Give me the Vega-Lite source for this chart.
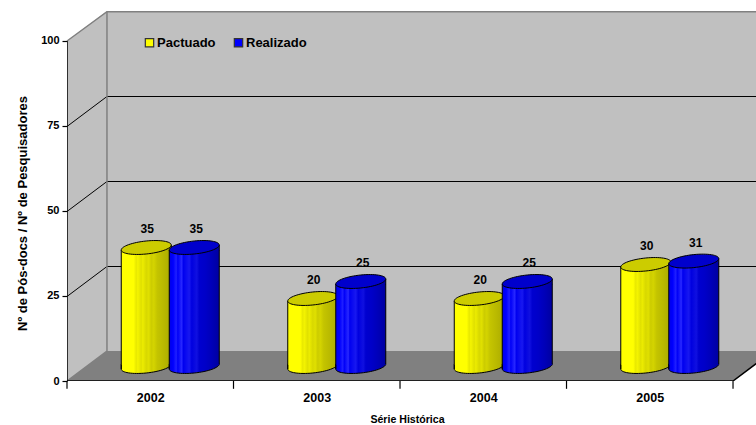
{"$schema":"https://vega.github.io/schema/vega-lite/v6.json","width":689,"height":370,"autosize":"none","padding":{"left":67,"top":11,"right":0,"bottom":44},"background":"white","config":{"view":{"stroke":null},"font":"Liberation Sans","text":{"font":"Liberation Sans"}},"datasets":{"bars":[{"year":2002,"series":"Pactuado","value":35},{"year":2003,"series":"Pactuado","value":20},{"year":2004,"series":"Pactuado","value":20},{"year":2005,"series":"Pactuado","value":30},{"year":2002,"series":"Realizado","value":35},{"year":2003,"series":"Realizado","value":25},{"year":2004,"series":"Realizado","value":25},{"year":2005,"series":"Realizado","value":31}]},"encoding":{"x":{"type":"quantitative","scale":{"domain":[2001.5,2005.638],"nice":false,"zero":false,"padding":0},"axis":{"values":[2002,2003,2004,2005],"format":"d","ticks":false,"domain":false,"grid":false,"title":"Série Histórica","labelFont":"Liberation Sans","labelFontWeight":"bold","labelFontSize":12.5,"labelColor":"#000","labelPadding":10,"labelOverlap":false,"titleFont":"Liberation Sans","titleFontWeight":"bold","titleFontSize":10.6,"titleColor":"#000","titlePadding":11,"titleX":340}},"y":{"type":"quantitative","scale":{"domain":[0,108.82],"nice":false,"padding":0},"axis":{"values":[0,25,50,75,100],"format":"d","grid":false,"domain":false,"tickColor":"#000","tickSize":5,"tickWidth":1.2,"title":"Nº de Pós-docs / Nº de Pesquisadores","labelFont":"Liberation Sans","labelFontWeight":"bold","labelFontSize":11,"labelColor":"#000","labelPadding":3,"titleFont":"Liberation Sans","titleFontWeight":"bold","titleFontSize":13,"titleColor":"#000","titlePadding":11,"titleY":202}}},"layer":[
{"data":{"values":[{"gx":2001.74,"lo":8.82,"hi":108.82},{"gx":2005.638,"lo":8.82,"hi":108.82}]},"mark":{"type":"area","fill":"#C0C0C0","opacity":1},"encoding":{"x":{"field":"gx"},"y":{"field":"lo"},"y2":{"field":"hi"}}},
{"data":{"values":[{"gx":2001.5,"lo":0,"hi":100},{"gx":2001.74,"lo":8.82,"hi":108.82}]},"mark":{"type":"area","fill":"#C0C0C0","opacity":1},"encoding":{"x":{"field":"gx"},"y":{"field":"lo"},"y2":{"field":"hi"}}},
{"data":{"values":[{"gy":0,"x1":2001.5,"x2":2005.5},{"gy":8.82,"x1":2001.74,"x2":2005.74}]},"mark":{"type":"area","orient":"horizontal","fill":"#808080","opacity":1,"clip":true},"encoding":{"y":{"field":"gy"},"x":{"field":"x1"},"x2":{"field":"x2"}}},
{"data":{"values":[{"k":"25","i":0,"gx":2001.5,"gy":25},{"k":"25","i":1,"gx":2001.74,"gy":33.82},{"k":"25","i":2,"gx":2005.638,"gy":33.82},{"k":"50","i":0,"gx":2001.5,"gy":50},{"k":"50","i":1,"gx":2001.74,"gy":58.82},{"k":"50","i":2,"gx":2005.638,"gy":58.82},{"k":"75","i":0,"gx":2001.5,"gy":75},{"k":"75","i":1,"gx":2001.74,"gy":83.82},{"k":"75","i":2,"gx":2005.638,"gy":83.82}]},"mark":{"type":"line","stroke":"#000000","strokeWidth":1,"yOffset":0.5},"encoding":{"x":{"field":"gx"},"y":{"field":"gy"},"detail":{"field":"k"},"order":{"field":"i"}}},
{"data":{"values":[{"k":"top","i":0,"gx":2001.5,"gy":100},{"k":"top","i":1,"gx":2001.74,"gy":108.6},{"k":"top","i":2,"gx":2005.638,"gy":108.6},{"k":"back","i":0,"gx":2001.74,"gy":108.6},{"k":"back","i":1,"gx":2001.74,"gy":8.82},{"k":"back","i":2,"gx":2001.5,"gy":0}]},"mark":{"type":"line","stroke":"#808080","strokeWidth":1.5},"encoding":{"x":{"field":"gx"},"y":{"field":"gy"},"detail":{"field":"k"},"order":{"field":"i"}}},
{"data":{"values":[{"i":0,"gx":2001.5,"gy":100},{"i":1,"gx":2001.5,"gy":0},{"i":2,"gx":2005.5,"gy":0},{"i":3,"gx":2005.74,"gy":8.82}]},"mark":{"type":"line","stroke":"#000000","strokeWidth":1.5,"clip":true},"encoding":{"x":{"field":"gx"},"y":{"field":"gy"},"order":{"field":"i"}}},
{"data":{"values":[{"gx":2001.5,"lo":-2.3,"hi":0},{"gx":2002.5,"lo":-2.3,"hi":0},{"gx":2003.5,"lo":-2.3,"hi":0},{"gx":2004.5,"lo":-2.3,"hi":0},{"gx":2005.5,"lo":-2.3,"hi":0}]},"mark":{"type":"rule","stroke":"#000","strokeWidth":1.2},"encoding":{"x":{"field":"gx"},"y":{"field":"lo"},"y2":{"field":"hi"}}},
{"data":{"name":"bars"},"mark":{"type":"square","size":20,"opacity":1,"yOffset":30,"xOffset":20},"encoding":{"x":{"field":"year"},"y":{"field":"value"},"color":{"field":"series","type":"nominal","scale":{"domain":["Pactuado","Realizado"],"range":["#FFFF00","#0000FF"]},"legend":{"orient":"none","legendX":76,"legendY":25,"direction":"horizontal","title":null,"symbolType":"square","symbolSize":70,"symbolStrokeColor":"#333333","symbolStrokeWidth":1.2,"labelFont":"Liberation Sans","labelFontWeight":"bold","labelFontSize":13,"labelColor":"#000","labelOffset":1,"columnPadding":15}}}},
{"data":{"name":"bars"},"transform":[{"filter":"datum.series=='Pactuado'"}],"mark":{"type":"point","filled":true,"opacity":1,"shape":"M-1,0.1C-1,0.2436,-0.5523,0.3152,0,0.26C0.5523,0.2048,1,0.0436,1,-0.1L-1,-0.1Z","size":2500,"xOffset":-4,"yOffset":-14.5,"stroke":"#000","strokeWidth":1,"fill":{"gradient":"linear","x1":0,"x2":1,"y1":0,"y2":0,"stops":[{"offset":0,"color":"#FFFF00"},{"offset":0.25,"color":"#FFFF00"},{"offset":0.3,"color":"#E8E800"},{"offset":0.33,"color":"#F4F400"},{"offset":0.4,"color":"#E0E000"},{"offset":0.43,"color":"#ECEC00"},{"offset":0.5,"color":"#D8D800"},{"offset":0.55,"color":"#E0E000"},{"offset":0.6,"color":"#CCCC00"},{"offset":0.65,"color":"#D4D400"},{"offset":0.72,"color":"#C4C400"},{"offset":0.8,"color":"#BDBD00"},{"offset":0.9,"color":"#B4B400"},{"offset":1,"color":"#A8A800"}]}},"encoding":{"x":{"field":"year"},"y":{"datum":0}}},
{"data":{"name":"bars"},"transform":[{"filter":"datum.series=='Pactuado'"}],"mark":{"type":"bar","size":50,"xOffset":-4,"yOffset":-12,"y2Offset":-16,"fill":{"gradient":"linear","x1":0,"x2":1,"y1":0,"y2":0,"stops":[{"offset":0,"color":"#FFFF00"},{"offset":0.25,"color":"#FFFF00"},{"offset":0.3,"color":"#E8E800"},{"offset":0.33,"color":"#F4F400"},{"offset":0.4,"color":"#E0E000"},{"offset":0.43,"color":"#ECEC00"},{"offset":0.5,"color":"#D8D800"},{"offset":0.55,"color":"#E0E000"},{"offset":0.6,"color":"#CCCC00"},{"offset":0.65,"color":"#D4D400"},{"offset":0.72,"color":"#C4C400"},{"offset":0.8,"color":"#BDBD00"},{"offset":0.9,"color":"#B4B400"},{"offset":1,"color":"#A8A800"}]}},"encoding":{"x":{"field":"year"},"y":{"field":"value"},"y2":{"datum":0}}},
{"data":{"name":"bars"},"transform":[{"filter":"datum.series=='Pactuado'"}],"mark":{"type":"point","filled":true,"opacity":1,"shape":"M-1,0.1L1,-0.1L1,0.14L-1,0.14Z","size":2500,"xOffset":-4,"yOffset":-14.5,"strokeWidth":0,"fill":{"gradient":"linear","x1":0,"x2":1,"y1":0,"y2":0,"stops":[{"offset":0,"color":"#FFFF00"},{"offset":0.6,"color":"#CCCC00"},{"offset":0.9,"color":"#B4B400"},{"offset":1,"color":"#A8A800"}]}},"encoding":{"x":{"field":"year"},"y":{"field":"value"}}},
{"data":{"name":"bars"},"transform":[{"filter":"datum.series=='Pactuado'"}],"mark":{"type":"rule","stroke":"#000","strokeWidth":1,"xOffset":-29,"yOffset":-12,"y2Offset":-12},"encoding":{"x":{"field":"year"},"y":{"field":"value"},"y2":{"datum":0}}},
{"data":{"name":"bars"},"transform":[{"filter":"datum.series=='Pactuado'"}],"mark":{"type":"rule","stroke":"#000","strokeWidth":1,"xOffset":21,"yOffset":-17,"y2Offset":-17},"encoding":{"x":{"field":"year"},"y":{"field":"value"},"y2":{"datum":0}}},
{"data":{"name":"bars"},"transform":[{"filter":"datum.series=='Pactuado'"}],"mark":{"type":"point","filled":true,"opacity":1,"shape":"M-1,0.1C-1,0.2436,-0.5523,0.3152,0,0.26C0.5523,0.2048,1,0.0436,1,-0.1C1,-0.2436,0.5523,-0.3152,0,-0.26C-0.5523,-0.2048,-1,-0.0436,-1,0.1Z","size":2500,"xOffset":-4,"yOffset":-14.5,"stroke":"#000","strokeWidth":1,"fill":"#CCCC00"},"encoding":{"x":{"field":"year"},"y":{"field":"value"}}},
{"data":{"name":"bars"},"transform":[{"filter":"datum.series=='Pactuado'"}],"mark":{"type":"text","font":"Liberation Sans","fontWeight":"bold","fontSize":12,"fill":"#000","xOffset":-3,"yOffset":-33},"encoding":{"x":{"field":"year"},"y":{"field":"value"},"text":{"field":"value"}}},
{"data":{"name":"bars"},"transform":[{"filter":"datum.series=='Realizado'"}],"mark":{"type":"point","filled":true,"opacity":1,"shape":"M-1,0.1C-1,0.2436,-0.5523,0.3152,0,0.26C0.5523,0.2048,1,0.0436,1,-0.1L-1,-0.1Z","size":2500,"xOffset":44,"yOffset":-14.5,"stroke":"#000","strokeWidth":1,"fill":{"gradient":"linear","x1":0,"x2":1,"y1":0,"y2":0,"stops":[{"offset":0,"color":"#0000E8"},{"offset":0.08,"color":"#0000FF"},{"offset":0.14,"color":"#2020FF"},{"offset":0.17,"color":"#0000F8"},{"offset":0.25,"color":"#2828FF"},{"offset":0.28,"color":"#0000F0"},{"offset":0.4,"color":"#1818F0"},{"offset":0.45,"color":"#0000E0"},{"offset":0.55,"color":"#1010E0"},{"offset":0.6,"color":"#0000D0"},{"offset":0.72,"color":"#0000C8"},{"offset":0.85,"color":"#0000B8"},{"offset":1,"color":"#0000A0"}]}},"encoding":{"x":{"field":"year"},"y":{"datum":0}}},
{"data":{"name":"bars"},"transform":[{"filter":"datum.series=='Realizado'"}],"mark":{"type":"bar","size":50,"xOffset":44,"yOffset":-12,"y2Offset":-16,"fill":{"gradient":"linear","x1":0,"x2":1,"y1":0,"y2":0,"stops":[{"offset":0,"color":"#0000E8"},{"offset":0.08,"color":"#0000FF"},{"offset":0.14,"color":"#2020FF"},{"offset":0.17,"color":"#0000F8"},{"offset":0.25,"color":"#2828FF"},{"offset":0.28,"color":"#0000F0"},{"offset":0.4,"color":"#1818F0"},{"offset":0.45,"color":"#0000E0"},{"offset":0.55,"color":"#1010E0"},{"offset":0.6,"color":"#0000D0"},{"offset":0.72,"color":"#0000C8"},{"offset":0.85,"color":"#0000B8"},{"offset":1,"color":"#0000A0"}]}},"encoding":{"x":{"field":"year"},"y":{"field":"value"},"y2":{"datum":0}}},
{"data":{"name":"bars"},"transform":[{"filter":"datum.series=='Realizado'"}],"mark":{"type":"point","filled":true,"opacity":1,"shape":"M-1,0.1L1,-0.1L1,0.14L-1,0.14Z","size":2500,"xOffset":44,"yOffset":-14.5,"strokeWidth":0,"fill":{"gradient":"linear","x1":0,"x2":1,"y1":0,"y2":0,"stops":[{"offset":0,"color":"#0000FF"},{"offset":0.6,"color":"#0000D0"},{"offset":0.85,"color":"#0000B8"},{"offset":1,"color":"#0000A0"}]}},"encoding":{"x":{"field":"year"},"y":{"field":"value"}}},
{"data":{"name":"bars"},"transform":[{"filter":"datum.series=='Realizado'"}],"mark":{"type":"rule","stroke":"#000","strokeWidth":1,"xOffset":19,"yOffset":-12,"y2Offset":-12},"encoding":{"x":{"field":"year"},"y":{"field":"value"},"y2":{"datum":0}}},
{"data":{"name":"bars"},"transform":[{"filter":"datum.series=='Realizado'"}],"mark":{"type":"rule","stroke":"#000","strokeWidth":1,"xOffset":69,"yOffset":-17,"y2Offset":-17},"encoding":{"x":{"field":"year"},"y":{"field":"value"},"y2":{"datum":0}}},
{"data":{"name":"bars"},"transform":[{"filter":"datum.series=='Realizado'"}],"mark":{"type":"point","filled":true,"opacity":1,"shape":"M-1,0.1C-1,0.2436,-0.5523,0.3152,0,0.26C0.5523,0.2048,1,0.0436,1,-0.1C1,-0.2436,0.5523,-0.3152,0,-0.26C-0.5523,-0.2048,-1,-0.0436,-1,0.1Z","size":2500,"xOffset":44,"yOffset":-14.5,"stroke":"#000","strokeWidth":1,"fill":"#0000CC"},"encoding":{"x":{"field":"year"},"y":{"field":"value"}}},
{"data":{"name":"bars"},"transform":[{"filter":"datum.series=='Realizado'"}],"mark":{"type":"text","font":"Liberation Sans","fontWeight":"bold","fontSize":12,"fill":"#000","xOffset":46,"yOffset":-33},"encoding":{"x":{"field":"year"},"y":{"field":"value"},"text":{"field":"value"}}}
]}
